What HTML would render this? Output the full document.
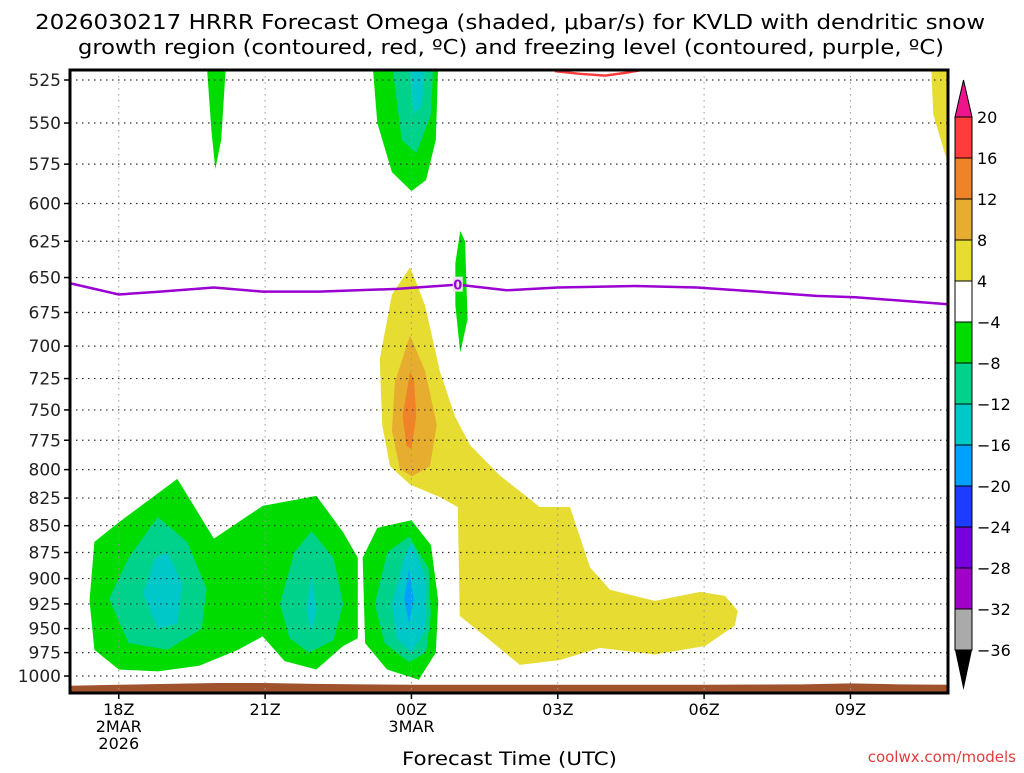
<!DOCTYPE html>
<html><head><meta charset="utf-8"><style>
body{margin:0;background:#fff;width:1024px;height:768px;overflow:hidden}
svg text{font-family:"DejaVu Sans","Liberation Sans",sans-serif}
</style></head><body>
<svg id="chart" width="1024" height="768" xmlns="http://www.w3.org/2000/svg">
<text x="35" y="29" font-size="20" textLength="950" lengthAdjust="spacingAndGlyphs" fill="#000">2026030217 HRRR Forecast Omega (shaded, μbar/s) for KVLD with dendritic snow</text>
<text x="78" y="54" font-size="20" textLength="866" lengthAdjust="spacingAndGlyphs" fill="#000">growth region (contoured, red, ºC) and freezing level (contoured, purple, ºC)</text>
<g id="shading"></g>
<g id="grid"></g>
<g id="lines"></g>
<g id="axes"></g>
<g id="cbar"></g>
<text x="402" y="765" font-size="19" textLength="215" lengthAdjust="spacingAndGlyphs">Forecast Time (UTC)</text>
<text x="1016" y="762" font-size="15" text-anchor="end" fill="#e03c3c">coolwx.com/models</text>
</svg>
<script>
// hours relative to 18Z 2 Mar; pressure in hPa
const pLevels=[525,550,575,600,625,650,675,700,725,750,775,800,825,850,875,900,925,950,975,1000];
const timeTicks=[0,3,6,9,12,15];
const timeLabels=[["18Z","2MAR","2026"],["21Z"],["00Z","3MAR"],["03Z"],["06Z"],["09Z"]];
const cbLevels=[20,16,12,8,4,-4,-8,-12,-16,-20,-24,-28,-32,-36];
const cbColors=["#ff3c3c","#f08228","#e6ad2e","#e6dc32","#ffffff","#00dc00","#00d28c","#00c8c8","#00a0ff","#1e3cff","#7800dc","#a000c8","#aaaaaa"];
const freezeH=[-1,0,0.85,1.95,2.95,4.1,5.7,6.95,7.95,9.0,10.6,11.85,13.1,14.3,15.1,17];
const freezeP=[654,662,660,657,660,660,658,655,659,657,656,657,660,663,664,669];
const snowH=[8.94,9.45,9.97,10.38,10.69];
const snowP=[520,521.5,522.5,521,519.5];
const sfcH=[-1,0,1,2,3,4,5,6,8,10,12,14,15,16,17];
const sfcP=[1010.5,1009.5,1008.5,1007.5,1007.5,1008.5,1009,1009.5,1009.5,1009.5,1009.5,1009,1008,1009,1009.5];
const omegaAreas=[
 {name:"green-lowlevel-west",v:-6,pts:[[-0.6,922],[-0.5,865],[0,847],[1.2,808],[1.95,862],[2.95,832],[4.05,823],[4.6,856],[4.9,880],[4.9,960],[4.6,968],[4.05,993],[3.4,984],[2.95,958],[2.45,972],[1.65,989],[0.8,995],[0,993],[-0.5,972]]},
 {name:"green-lowlevel-east",v:-6,pts:[[5.0,880],[5.3,852],[6.0,845],[6.4,868],[6.55,922],[6.5,975],[6.15,1004],[5.5,993],[5.05,965]]},
 {name:"teal-a",v:-10,pts:[[-0.2,920],[0.2,880],[0.8,842],[1.4,865],[1.8,910],[1.7,950],[1.0,972],[0.2,965]]},
 {name:"teal-b",v:-10,pts:[[3.3,925],[3.6,875],[3.95,855],[4.4,880],[4.6,925],[4.4,962],[3.9,975],[3.5,960]]},
 {name:"teal-c",v:-10,pts:[[5.25,925],[5.5,875],[5.95,860],[6.35,890],[6.4,935],[6.3,975],[5.95,985],[5.45,965]]},
 {name:"cyan-a",v:-14,pts:[[0.5,915],[0.75,880],[1.0,875],[1.3,905],[1.2,945],[0.8,950]]},
 {name:"cyan-b",v:-14,pts:[[3.85,930],[3.95,895],[4.05,930],[3.95,955]]},
 {name:"cyan-c",v:-14,pts:[[5.6,925],[5.85,880],[6.0,865],[6.3,900],[6.3,950],[6.0,975],[5.7,960]]},
 {name:"blue-c",v:-18,pts:[[5.85,920],[5.95,890],[6.05,920],[5.95,945]]},
 {name:"green-top-1",v:-6,pts:[[1.8,515],[2.2,515],[2.1,560],[1.98,578],[1.9,555]]},
 {name:"green-top-2",v:-6,pts:[[5.2,515],[6.55,515],[6.5,560],[6.3,585],[6.0,592],[5.6,580],[5.3,550]]},
 {name:"teal-top-2",v:-10,pts:[[5.6,515],[6.45,515],[6.4,545],[6.1,568],[5.8,560]]},
 {name:"cyan-top-2",v:-14,pts:[[5.95,515],[6.3,515],[6.2,540],[6.05,545]]},
 {name:"green-mid",v:-6,pts:[[6.9,640],[7.0,618],[7.1,625],[7.15,680],[7.0,705],[6.9,670]]},
 {name:"yellow-corner",v:6,pts:[[16.65,515],[17,515],[17,575],[16.7,545]]},
 {name:"yellow-main",v:6,pts:[[5.97,643],[5.6,662],[5.35,710],[5.4,762],[5.56,797],[5.97,813],[6.58,824],[6.95,833],[6.99,937],[7.61,962],[8.22,988],[9.04,983],[9.86,970],[10.99,977],[12.02,968],[12.63,947],[12.69,932],[12.43,917],[11.92,913],[10.99,922],[10.07,911],[9.66,889],[9.25,833],[8.63,833],[7.81,805],[7.2,779],[6.89,755],[6.58,719],[6.28,670],[6.07,651]]},
 {name:"gold-main",v:10,pts:[[5.97,692],[5.66,728],[5.6,767],[5.76,799],[6.01,806],[6.38,797],[6.52,762],[6.28,719]]},
 {name:"orange-main",v:14,pts:[[5.97,720],[5.82,755],[5.9,780],[6.0,782],[6.1,755],[6.05,725]]}
];
const X0=70,X1=948,Y0=70,Y1=693,H0=-1,H1=17;
const xs=h=>X0+(h-H0)*(X1-X0)/(H1-H0);
const ys=p=>80+925*Math.log(p/525);
const NS="http://www.w3.org/2000/svg";
function mk(tag,parent,attrs){const e=document.createElementNS(NS,tag);for(const k in attrs)e.setAttribute(k,attrs[k]);parent.appendChild(e);return e;}
function colorFor(v){for(let i=0;i<cbLevels.length-1;i++){if(v<=cbLevels[i]&&v>cbLevels[i+1])return cbColors[i];}return "#fff";}
const sh=document.getElementById('shading');
const clip=mk('clipPath',document.getElementById('chart'),{id:'pc'});
mk('rect',clip,{x:X0,y:Y0,width:X1-X0,height:Y1-Y0});
sh.setAttribute('clip-path','url(#pc)');
omegaAreas.forEach(a=>{
 const e=mk('polygon',sh,{points:a.pts.map(q=>xs(q[0])+','+ys(q[1])).join(' '),fill:colorFor(a.v),'stroke-linejoin':'round'});
 
 
});
let tp=sfcH.map((h,i)=>xs(h)+','+ys(sfcP[i])).join(' ')+' '+X1+','+Y1+' '+X0+','+Y1;
const terr=mk('polygon',sh,{points:tp,fill:'#a0522d'});


const g=document.getElementById('grid');
pLevels.forEach(p=>{
 const l=mk('line',g,{x1:X0,x2:X1,y1:ys(p),y2:ys(p),stroke:'#333','stroke-width':1.2,'stroke-dasharray':'1.5,4.5'});
 
 
});
timeTicks.forEach(h=>{
 const l=mk('line',g,{x1:xs(h),x2:xs(h),y1:Y0,y2:Y1,stroke:'#999','stroke-width':1,'stroke-dasharray':'1.5,4.5'});
 
 
});
const ln=document.getElementById('lines');
const fz=mk('polyline',ln,{points:freezeH.map((h,i)=>xs(h)+','+ys(freezeP[i])).join(' '),fill:'none',stroke:'#9b00d2','stroke-width':2.5});


const fb=mk('rect',ln,{x:xs(6.95)-5,y:ys(655)-8,width:10,height:15,fill:'#e6e6e6'});


const fl=mk('text',ln,{x:xs(6.95),y:ys(655)+5,'font-size':13,'text-anchor':'middle',fill:'#9b00d2','font-weight':'bold'});
fl.textContent='0';


const sn=mk('polyline',ln,{points:snowH.map((h,i)=>xs(h)+','+ys(snowP[i])).join(' '),fill:'none',stroke:'#ff3c3c','stroke-width':2.5});


const ax=document.getElementById('axes');
const fr=mk('rect',ax,{x:X0,y:Y0,width:X1-X0,height:Y1-Y0,fill:'none',stroke:'#000','stroke-width':3});


pLevels.forEach(p=>{
 const t=mk('line',ax,{x1:X0-6,x2:X0,y1:ys(p),y2:ys(p),stroke:'#000','stroke-width':1.5});
 
 
 const tx=mk('text',ax,{x:X0-9,y:ys(p)+6,'font-size':17,'text-anchor':'end',fill:'#222'});
 tx.textContent=p;
 
 
});
timeTicks.forEach((h,i)=>{
 const t=mk('line',ax,{x1:xs(h),x2:xs(h),y1:Y1,y2:Y1+6,stroke:'#000','stroke-width':1.5});
 
 
 timeLabels[i].forEach((s,j)=>{
  const tx=mk('text',ax,{x:xs(h),y:Y1+22+j*17,'font-size':16,'text-anchor':'middle',fill:'#000'});
  tx.textContent=s;
  
  
 });
});
const cb=document.getElementById('cbar');
const CX=955,CW=17,CT=117,CS=41;
const up=mk('polygon',cb,{points:`${CX},${CT} ${CX+CW},${CT} ${CX+CW/2},80`,fill:'#f0148c',stroke:'#000','stroke-width':1});


cbColors.forEach((c,i)=>{
 const r=mk('rect',cb,{x:CX,y:CT+i*CS,width:CW,height:CS,fill:c,stroke:'#000','stroke-width':1});
 
 
});
const yb=CT+cbColors.length*CS;
const dn=mk('polygon',cb,{points:`${CX},${yb} ${CX+CW},${yb} ${CX+CW/2},${yb+40}`,fill:'#000'});


cbLevels.forEach((v,i)=>{
 const tx=mk('text',cb,{x:977,y:CT+i*CS+6,'font-size':16,fill:'#000'});
 tx.textContent=v<0?'\u2212'+(-v):String(v);
 
 
});
</script>
</body></html>
